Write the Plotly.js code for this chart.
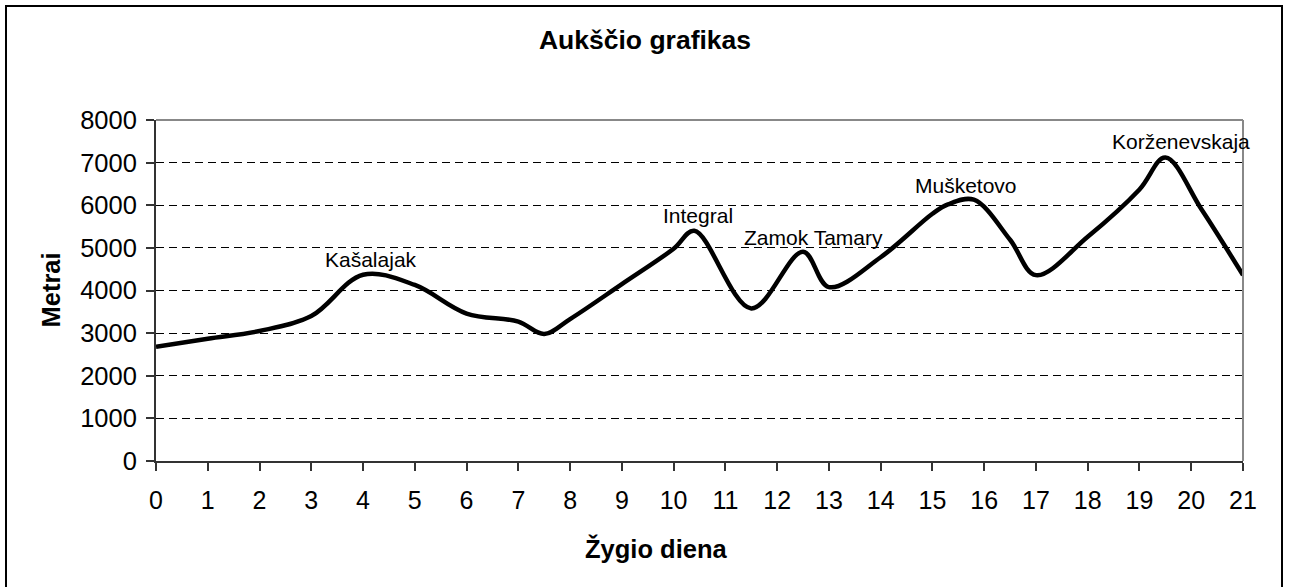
<!DOCTYPE html>
<html>
<head>
<meta charset="utf-8">
<script src="https://cdn.plot.ly/plotly-3.0.1.min.js"></script>
<style>
html,body{margin:0;padding:0;background:#fff;}
#chart{width:1292px;height:587px;}
</style>
</head>
<body>
<div id="chart"></div>
<script>
// Data
var days = [0, 1, 2, 3, 4, 5, 6, 7, 7.5, 8, 9, 10, 10.4, 11.5, 12.5, 13, 14, 15, 15.3, 15.8, 16.5, 17, 18, 19, 19.5, 20.2, 21];
var altitude = [2680, 2870, 3050, 3400, 4370, 4130, 3460, 3270, 2980, 3330, 4150, 4980, 5400, 3580, 4910, 4080, 4780, 5800, 6020, 6130, 5190, 4360, 5260, 6370, 7120, 5900, 4360];
var peakNames = ["Kašalajak", "Integral", "Zamok Tamary", "Mušketovo", "Korženevskaja"];
var peakLabelX = [4.15, 10.48, 12.70, 15.65, 19.80];
var peakLabelY = [4716, 5771, 5255, 6452, 7490];
var yTicks = [0, 1000, 2000, 3000, 4000, 5000, 6000, 7000, 8000];
var xTicks = [0,1,2,3,4,5,6,7,8,9,10,11,12,13,14,15,16,17,18,19,20,21];
var chartTitle = "Aukščio grafikas";
var xTitle = "Žygio diena";
var yTitle = "Metrai";

var FONT = "Liberation Sans, Arial, sans-serif";

var trace = {
  x: days,
  y: altitude,
  type: "scatter",
  mode: "lines",
  line: {color: "#000", width: 4.5, shape: "spline", smoothing: 1},
  hoverinfo: "x+y",
  showlegend: false
};

var annotations = peakNames.map(function (name, i) {
  return {
    x: peakLabelX[i], y: peakLabelY[i], xref: "x", yref: "y",
    text: name, showarrow: false,
    xanchor: "center", yanchor: "middle",
    font: {family: FONT, size: 21, color: "#000"}
  };
});
annotations.push({
  x: (656 - 156) / 1087, y: -(548 - 461) / 341, xref: "paper", yref: "paper",
  text: "<b>" + xTitle + "</b>", showarrow: false,
  xanchor: "center", yanchor: "middle",
  font: {family: FONT, size: 25.5, color: "#000"}
});
annotations.push({
  x: (50 - 156) / 1087, y: 0.5, xref: "paper", yref: "paper",
  text: "<b>" + yTitle + "</b>", showarrow: false, textangle: -90,
  xanchor: "center", yanchor: "middle",
  font: {family: FONT, size: 25.5, color: "#000"}
});

var layout = {
  width: 1292, height: 587,
  margin: {l: 156, r: 49, t: 120, b: 126, pad: 0},
  paper_bgcolor: "#fff", plot_bgcolor: "#fff",
  font: {family: FONT, color: "#000"},
  title: {
    text: "<b>" + chartTitle + "</b>",
    x: (645 / 1292), xref: "container", xanchor: "center",
    y: 1 - 40 / 587, yref: "container", yanchor: "middle",
    font: {family: FONT, size: 26.5, color: "#000"}
  },
  xaxis: {
    range: [0, 21], tickvals: xTicks, ticktext: xTicks.map(String),
    showgrid: false, zeroline: false,
    showline: true, linecolor: "#333", linewidth: 2,
    ticks: "outside", ticklen: 8, tickwidth: 1.5, tickcolor: "#333",
    ticklabelstandoff: 8,
    tickfont: {family: FONT, size: 25, color: "#000"},
    fixedrange: true
  },
  yaxis: {
    range: [0, 8000], tickvals: yTicks, ticktext: yTicks.map(String),
    showgrid: true, gridcolor: "#000", gridwidth: 1, griddash: "8px,5px",
    zeroline: false,
    showline: true, linecolor: "#333", linewidth: 2,
    ticks: "outside", ticklen: 8, tickwidth: 1.5, tickcolor: "#333",
    ticklabelstandoff: 4,
    tickfont: {family: FONT, size: 25.5, color: "#000"},
    fixedrange: true
  },
  shapes: [
    {type: "line", xref: "paper", yref: "paper", x0: 0, x1: 1, y0: 1, y1: 1,
     line: {color: "#888", width: 2}, layer: "above"},
    {type: "line", xref: "paper", yref: "paper", x0: 1, x1: 1, y0: 0, y1: 1,
     line: {color: "#888", width: 2}, layer: "above"},
    {type: "rect", xref: "paper", yref: "paper",
     x0: (6 - 156) / 1087, x1: (1282 - 156) / 1087,
     y0: -(600 - 461) / 341, y1: 1 + (120 - 6) / 341,
     line: {color: "#000", width: 2}, fillcolor: "rgba(0,0,0,0)", layer: "above"}
  ],
  annotations: annotations
};

Plotly.newPlot("chart", [trace], layout, {displayModeBar: false});
</script>
</body>
</html>
